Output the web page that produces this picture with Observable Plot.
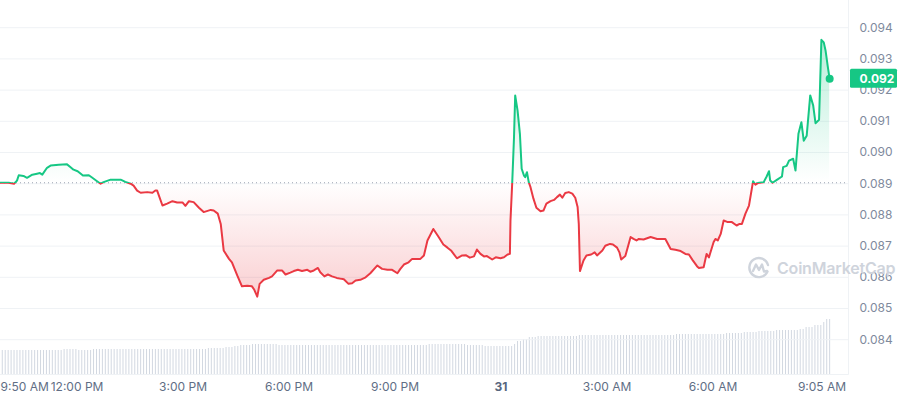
<!DOCTYPE html>
<html><head><meta charset="utf-8">
<script src="https://cdn.jsdelivr.net/npm/d3@7"></script>
<script src="https://cdn.jsdelivr.net/npm/@observablehq/plot@0.6"></script>
<style>
html,body{margin:0;padding:0;background:#fff;}
#chart{position:relative;width:898px;height:400px;font-family:Inter, sans-serif;overflow:hidden;}
#chart svg{position:absolute;left:0;top:0;}
#wm{position:absolute;left:747px;top:256px;display:flex;align-items:center;gap:6px;color:#cfd4dc;font-size:16px;font-weight:600;font-family:Inter, sans-serif;pointer-events:none;letter-spacing:-0.2px}
</style></head><body>
<div id="chart"></div>
<script>
// Price series: minutes after 9:50 AM (day 30) and price (USD)
const minutes = [0,14,23,28,31,39,45,54,62,67,71,79,85,99,113,119,124,131,140,150,156,164,170,175,187,204,212,221,226,232,238,249,258,263,266,275,283,292,300,309,314,320,328,337,345,
357,362,369,374,379,388,393,402,410,419,427,431,436,440,447,456,461,470,478,484,492,498,505,512,521,526,532,539,543,550,556,563,571,579,583,591,597,603,611,620,628,640,648,657,665,674,679,685,693,699,710,
713,719,725,735,744,752,759,765,775,784,790,797,804,809,815,821,826,835,841,849,855,861,865,866,869,872,874,878,882,885,889,891,894,897,900,905,910,917,922,927,934,940,945,950,954,959,965,971,976,980,982,984,990,995,1003,1009,1013,1022,1027,1035,1040,1047,1051,1054,1061,
1070,1075,1080,1084,1092,1104,1115,1129,1138,1146,1155,1163,1169,1175,1183,1186,1194,1199,1203,1211,1214,1218,1223,1228,1235,1242,1250,1255,1259,1265,1271,1278,1282,1286,1292,1296,1301,1305,1307,1311,1319,1327,1329,1335,1339,1346,1350,1355,1360,1364,1369,1375,1380,1384,1390,1394,1398,1401,1405,1408];
const prices = [0.08903,0.08903,0.08900,0.08910,0.08927,0.08925,0.08919,0.08929,0.08932,0.08934,0.08929,0.08951,0.08958,0.08961,0.08962,0.08953,0.08945,0.08940,0.08926,0.08927,0.08919,0.08908,0.08900,0.08905,0.08913,0.08913,0.08906,0.08900,0.08894,0.08878,0.08871,0.08873,0.08871,0.08878,0.08878,0.08830,0.08836,0.08844,0.08840,0.08840,0.08829,0.08844,0.08841,0.08823,0.08809,
0.08816,0.08814,0.08804,0.08771,0.08686,0.08659,0.08648,0.08606,0.08571,0.08573,0.08571,0.08560,0.08538,0.08579,0.08592,0.08598,0.08603,0.08622,0.08622,0.08609,0.08615,0.08620,0.08624,0.08620,0.08624,0.08618,0.08622,0.08630,0.08616,0.08603,0.08609,0.08603,0.08598,0.08595,0.08594,0.08579,0.08581,0.08590,0.08592,0.08600,0.08613,0.08638,0.08627,0.08624,0.08624,0.08613,0.08627,0.08641,0.08648,0.08659,0.08659,
0.08659,0.08670,0.08718,0.08755,0.08729,0.08705,0.08695,0.08686,0.08661,0.08670,0.08671,0.08663,0.08667,0.08689,0.08675,0.08667,0.08668,0.08657,0.08664,0.08661,0.08664,0.08673,0.08675,0.08782,0.08905,0.09049,0.09183,0.09135,0.09060,0.08948,0.08926,0.08921,0.08937,0.08905,0.08889,0.08852,0.08823,0.08812,0.08814,0.08836,0.08844,0.08848,0.08857,0.08865,0.08855,0.08870,0.08873,0.08868,0.08855,0.08825,0.08771,0.08620,0.08654,0.08670,0.08673,0.08680,0.08670,0.08686,0.08701,0.08707,0.08705,0.08695,0.08680,0.08657,0.08668,
0.08729,0.08723,0.08718,0.08723,0.08721,0.08729,0.08723,0.08723,0.08691,0.08688,0.08684,0.08675,0.08673,0.08656,0.08635,0.08630,0.08632,0.08675,0.08664,0.08713,0.08723,0.08718,0.08739,0.08782,0.08777,0.08777,0.08766,0.08771,0.08771,0.08804,0.08830,0.08908,0.08897,0.08902,0.08904,0.08905,0.08923,0.08940,0.08910,0.08903,0.08913,0.08923,0.08953,0.08957,0.08974,0.08980,0.08942,0.09060,0.09097,0.09038,0.09054,0.09183,0.09151,0.09094,0.09105,0.09361,0.09353,0.09327,0.09273,0.09236];
const openPrice = 0.08903;

// Volume bars, one per 5 minutes starting 3 minutes after 9:50 AM (relative units)
const volumeFirstMinute = 3;
const volumeStepMinutes = 5;
const volumes = [
24,24,24,24,24,24,24,24,24,24,24,24,24,24,24,24,24,24,24,24,24,
25,25,25,25,25, 24,24,24,24,24,
25,25,25,25,25,25,25,25,25,25,25,25,25,
25,25,25,25,25,25,25,25,25,25,25,25,25,
25,25,25,25,25,25,25,25,25,25,25,25,25,
26,26,26,26,26,26, 27,27,27, 28,28, 29,29,29,29,
30,30,30,30,30,30,30,30,30,
29,29,29,29,29,29,29,29,29,29,29,29,29,
29,29,29,29,29,29,29,29,29,29,29,29,29,
29,29,29,29,29,29,29,29,29,29,29,29,29,
29,29,29,29,29,29,29,29,29,29,29,29,
30,30,30,30,30,30,30,30,30,30,30,30,30,
29,29,29,29,29,29,
28,28,28,28,28,28,28,28,28,28,
30,33,33,35,35,37,37,37,
38,38,38,38,38,38,38,38,38,38,38,38,38,38,
39,39,39,39,39,39,39,39,39,39,39,
39,39,39,39,39,39,39,39,39,39,39,
39,39,39,39,39,39,39,39,39,39,39,
40,40,40,40,40,40,40,40,40,40,40,40,40,40,40,40,40,
41,41,41,41,41,41, 42,42,42,42,42, 43,43,43,43,43,43,
44,44,44,44,44,44,44,44, 45,45, 47,47,47, 49,49,49, 52, 55,55];

const yTicks = [0.084,0.085,0.086,0.087,0.088,0.089,0.090,0.091,0.092,0.093,0.094];
const xTickMinutes = [0,130,310,490,670,850,1030,1210,1395];
const xTickLabels = ["9:50 AM","12:00 PM","3:00 PM","6:00 PM","9:00 PM","31","3:00 AM","6:00 AM","9:05 AM"];

const GREEN = "#16c784", RED = "#ea3943", GRID = "#eff2f5";
const priceData = minutes.map((t, i) => ({t, p: prices[i]}));
const volData = volumes.map((v, i) => ({t: volumeFirstMinute + i * volumeStepMinutes, v}));
const lastPrice = prices[prices.length - 1];
const lastMinute = minutes[minutes.length - 1];
const NS = "http://www.w3.org/2000/svg";

function gradients(index, scales) {
  const y = scales.y;
  const yTop = y(d3.max(prices)), yBot = y(d3.min(prices)), yBase = y(openPrice);
  const f = (yBase - yTop) / (yBot - yTop);
  const defs = document.createElementNS(NS, "defs");
  function grad(id, stops) {
    const g = document.createElementNS(NS, "linearGradient");
    g.setAttribute("id", id);
    g.setAttribute("gradientUnits", "userSpaceOnUse");
    g.setAttribute("x1", 0); g.setAttribute("x2", 0);
    g.setAttribute("y1", yTop); g.setAttribute("y2", yBot);
    for (const [o, c, a] of stops) {
      const s = document.createElementNS(NS, "stop");
      s.setAttribute("offset", o);
      s.setAttribute("stop-color", c);
      s.setAttribute("stop-opacity", a);
      g.appendChild(s);
    }
    defs.appendChild(g);
  }
  grad("lineGrad", [[0, GREEN, 1], [f, GREEN, 1], [f, RED, 1], [1, RED, 1]]);
  grad("areaGrad", [[0, GREEN, 0.3], [f, GREEN, 0], [f, RED, 0], [1, RED, 0.24]]);
  return defs;
}

function badge(index, scales, values, dims) {
  const r = document.createElementNS(NS, "rect");
  const yy = scales.y(lastPrice);
  r.setAttribute("x", dims.width - dims.marginRight + 2);
  r.setAttribute("y", yy - 9.5);
  r.setAttribute("width", dims.marginRight - 3);
  r.setAttribute("height", 19);
  r.setAttribute("rx", 1.5);
  r.setAttribute("fill", GREEN);
  return r;
}

const volPlot = Plot.plot({
  width: 898, height: 400,
  marginLeft: 0, marginRight: 50, marginTop: 0, marginBottom: 25,
  x: {domain: [0, 1440], axis: null},
  y: {domain: [0, 56], range: [374, 318], axis: null},
  style: {background: "transparent"},
  marks: [
    Plot.ruleY([0], {stroke: GRID}),
    Plot.ruleX(volData, {x: "t", y1: 0, y2: "v", stroke: "#d2d8e1", strokeWidth: 1})
  ]
});

const tickIdx = xTickMinutes.map((t, i) => i);
const pricePlot = Plot.plot({
  width: 898, height: 400,
  marginLeft: 0, marginRight: 50, marginTop: 0, marginBottom: 25,
  x: {domain: [0, 1440], axis: null},
  y: {domain: [0.084, 0.094], range: [339.2, 27.2], axis: null},
  style: {background: "transparent", fontFamily: "Inter, sans-serif", overflow: "visible"},
  marks: [
    gradients,
    Plot.gridY(yTicks, {stroke: GRID, strokeOpacity: 1}),
    Plot.ruleX([1440], {y1: 0.09487, y2: 0.08286, stroke: GRID}),
    Plot.ruleY([openPrice], {stroke: "#9aa2b1", strokeDasharray: "1,3", strokeWidth: 1}),
    Plot.areaY(priceData, {x: "t", y1: openPrice, y2: "p", fill: "url(#areaGrad)"}),
    Plot.line(priceData, {x: "t", y: "p", stroke: "url(#lineGrad)", strokeWidth: 2, strokeLinejoin: "round"}),
    Plot.dot([lastPrice], {x: () => lastMinute, y: d => d, r: 4, fill: GREEN, stroke: "none"}),
    Plot.text(yTicks, {y: d => d, text: d => d.toFixed(3), frameAnchor: "right", dx: 11, textAnchor: "start", fill: "#808a9d", fontSize: 12}),
    badge,
    Plot.text([lastPrice], {y: d => d, text: d => d.toFixed(3), frameAnchor: "right", dx: 11, textAnchor: "start", fill: "#fff", fontSize: 12, fontWeight: 700}),
    Plot.text(tickIdx, {filter: i => i === 0, x: i => xTickMinutes[i], text: i => xTickLabels[i], frameAnchor: "bottom", lineAnchor: "middle", dy: 12, textAnchor: "start", fill: "#616e85", fontSize: 12}),
    Plot.text(tickIdx, {filter: i => i > 0 && xTickLabels[i] !== "31", x: i => xTickMinutes[i], text: i => xTickLabels[i], frameAnchor: "bottom", lineAnchor: "middle", dy: 12, fill: "#616e85", fontSize: 12}),
    Plot.text(tickIdx, {filter: i => xTickLabels[i] === "31", x: i => xTickMinutes[i], text: i => xTickLabels[i], frameAnchor: "bottom", lineAnchor: "middle", dy: 12, fill: "#58667e", fontSize: 12, fontWeight: 700})
  ]
});

const chart = document.getElementById("chart");
chart.appendChild(volPlot);
chart.appendChild(pricePlot);
const wm = document.createElement("div");
wm.id = "wm";
wm.innerHTML = '<svg width="24" height="24" viewBox="0 0 24 24" style="position:static"><path d="M20.5 15.5 A9.5 9.5 0 1 1 21 9" fill="none" stroke="#cfd4dc" stroke-width="2.4" stroke-linecap="round"/><path d="M6 15 L9 8.5 L12 14 L15 8.5 L17 15.5 L20 15" fill="none" stroke="#cfd4dc" stroke-width="2.4" stroke-linejoin="round" stroke-linecap="round"/></svg><span>CoinMarketCap</span>';
chart.appendChild(wm);
</script>
</body></html>
